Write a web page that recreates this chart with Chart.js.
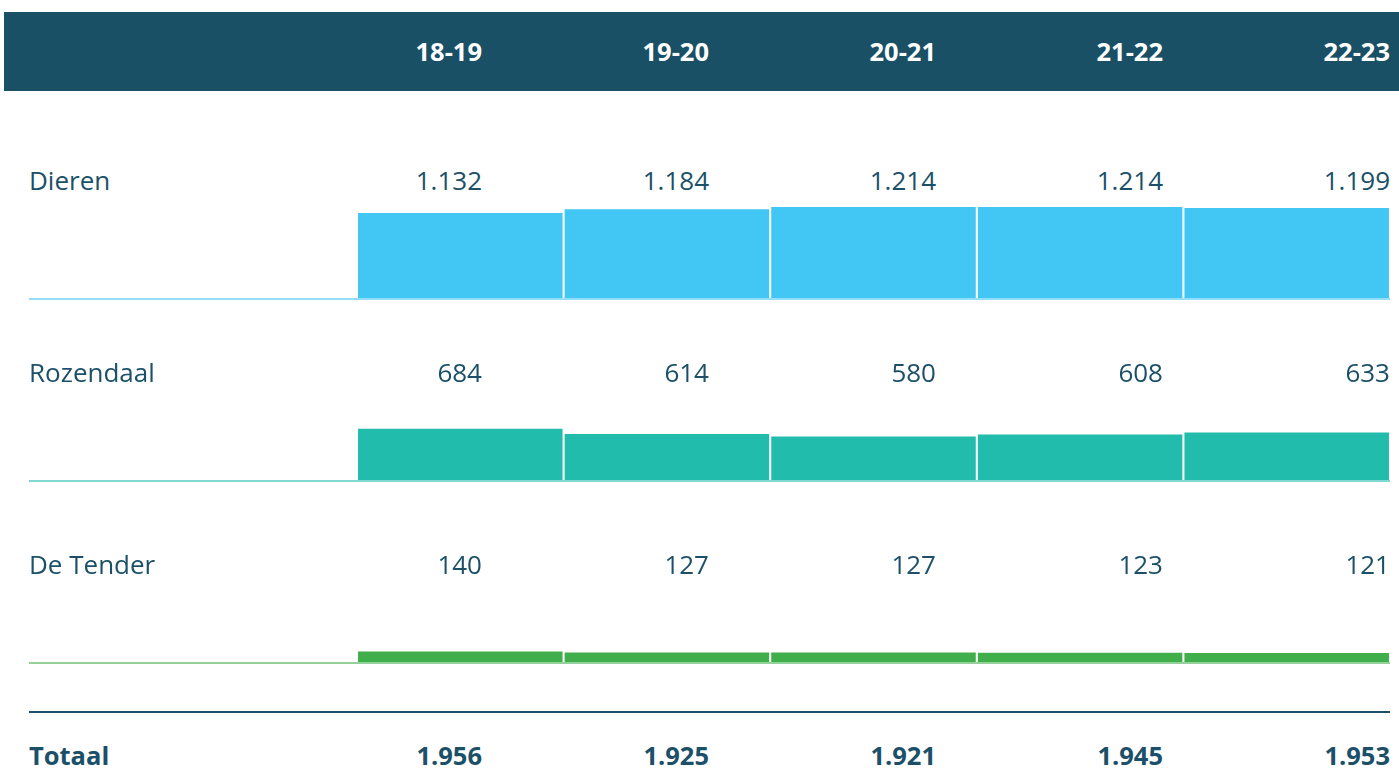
<!DOCTYPE html>
<html lang="nl">

<head>
  <meta charset="UTF-8">
  <title>Leerlingen per locatie</title>
  <style>
    body {
      margin: 0;
      width: 1399px;
      height: 769px;
      overflow: hidden;
      background: #fff;
      font-family: 'Open Sans', sans-serif;
      color: #1b5068;
      position: relative;
    }

    .header {
      position: absolute;
      left: 4px;
      top: 12px;
      width: 1395px;
      height: 79px;
      background: #1a5066;
    }

    .txt {
      position: absolute;
      font-size: 26px;
      line-height: 30px;
      white-space: nowrap;
      z-index: 2;
    }

    .num {
      text-align: right;
      width: 200px;
    }

    .head {
      color: #fff;
      font-weight: 700;
      font-size: 25.5px;
    }

    .bold {
      font-weight: 700;
      font-size: 25.5px;
    }

    .row-chart {
      position: absolute;
      left: 29px;
      width: 1361px;
      height: 102px;
      z-index: 1;
    }

    .divider {
      position: absolute;
      left: 29px;
      width: 1361px;
      top: 711px;
      height: 1.5px;
      background: #1b5068;
    }
  </style>
  <script src="https://cdn.jsdelivr.net/npm/chart.js"></script>
</head>

<body>
  <div class="header"></div>
  <div class="divider"></div>
  <canvas id="chart0" class="row-chart" width="1361" height="102" style="top:198px"></canvas>
  <canvas id="chart1" class="row-chart" width="1361" height="102" style="top:380px"></canvas>
  <canvas id="chart2" class="row-chart" width="1361" height="102" style="top:562px"></canvas>
  <div id="texts"></div>

  <script>
    // schooljaren
    const categories = ['18-19', '19-20', '20-21', '21-22', '22-23'];
    const locations = ['Dieren', 'Rozendaal', 'De Tender'];
    const dieren = [1132, 1184, 1214, 1214, 1199];
    const rozendaal = [684, 614, 580, 608, 633];
    const deTender = [140, 127, 127, 123, 121];
    const totaal = [1956, 1925, 1921, 1945, 1953];
    const colors = ['#42c6f3', '#22bcac', '#40ae4b'];

    const rows = [dieren, rozendaal, deTender];
    const rowTextTop = [165, 357, 549];

    // nl notation: 1.132
    function fmt(n) {
      return String(n).replace(/\B(?=(\d{3})+(?!\d))/g, '.');
    }

    const texts = document.getElementById('texts');
    function addText(str, left, top, cls) {
      const d = document.createElement('div');
      d.className = 'txt ' + cls;
      d.style.left = left + 'px';
      d.style.top = top + 'px';
      d.textContent = str;
      texts.appendChild(d);
    }

    // column right edges 482, 709, ...
    categories.forEach((c, i) => addText(c, 282 + 227 * i, 36, 'num head'));
    rows.forEach((vals, r) => {
      addText(locations[r], 29, rowTextTop[r], '');
      vals.forEach((v, i) => addText(fmt(v), 282 + 227 * i, rowTextTop[r], 'num'));
    });
    addText('Totaal', 29, 740, 'bold');
    totaal.forEach((v, i) => addText(fmt(v), 282 + 227 * i, 740, 'num bold'));

    // thin line under each row, running under the bars too
    const baseline = {
      id: 'baseline',
      afterDatasetsDraw(chart) {
        const { ctx, chartArea } = chart;
        const y = chart.scales.y.getPixelForValue(0) + 1;
        ctx.save();
        ctx.strokeStyle = chart.data.datasets[0].backgroundColor;
        ctx.globalAlpha = 0.75;
        ctx.lineWidth = 1.5;
        ctx.beginPath();
        ctx.moveTo(0, y);
        ctx.lineTo(chartArea.right, y);
        ctx.stroke();
        ctx.restore();
      }
    };

    rows.forEach((vals, r) => {
      new Chart(document.getElementById('chart' + r), {
        type: 'bar',
        data: {
          labels: categories,
          datasets: [{
            data: vals,
            backgroundColor: colors[r],
            barPercentage: 0.99,
            categoryPercentage: 1
          }]
        },
        options: {
          responsive: false,
          animation: false,
          layout: { padding: { left: 328, right: 0, top: 0, bottom: 2 } },
          plugins: { legend: { display: false }, tooltip: { enabled: false } },
          scales: {
            x: { display: false },
            y: { display: false, min: 0, max: 1333 }
          }
        },
        plugins: [baseline]
      });
    });
  </script>
</body>

</html>
